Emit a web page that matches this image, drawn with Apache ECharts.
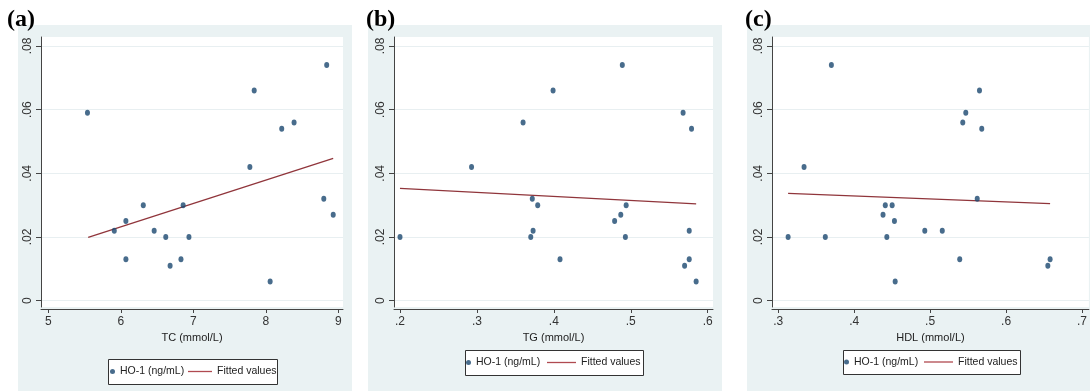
<!DOCTYPE html>
<html><head><meta charset="utf-8">
<script src="https://cdn.jsdelivr.net/npm/echarts@6/dist/echarts.min.js"></script>
<style>html,body{margin:0;padding:0;background:#fff}#c{width:1090px;height:391px}</style>
</head><body><div id="c"></div>
<script>
// ---- data ----
const yTicks = [0, 0.02, 0.04, 0.06, 0.08];
const xTicksA = [5, 6, 7, 8, 9];
const xTicksB = [0.2, 0.3, 0.4, 0.5, 0.6];
const xTicksC = [0.3, 0.4, 0.5, 0.6, 0.7];

const tcA = [5.54, 5.91, 6.07, 6.07, 6.31, 6.46, 6.62, 6.68, 6.83, 6.86, 6.94, 7.78, 7.84, 8.06, 8.22, 8.39, 8.80, 8.84, 8.93];
const hoA = [0.059, 0.022, 0.025, 0.013, 0.030, 0.022, 0.020, 0.011, 0.013, 0.030, 0.020, 0.042, 0.066, 0.006, 0.054, 0.056, 0.032, 0.074, 0.027];
const fitXA = [5.55, 8.93];
const fitYA = [0.0199, 0.0447];

const tgB = [0.200, 0.293, 0.360, 0.372, 0.379, 0.373, 0.370, 0.399, 0.408, 0.479, 0.487, 0.489, 0.494, 0.493, 0.568, 0.579, 0.576, 0.576, 0.570, 0.585];
const hoB = [0.020, 0.042, 0.056, 0.032, 0.030, 0.022, 0.020, 0.066, 0.013, 0.025, 0.027, 0.074, 0.030, 0.020, 0.059, 0.054, 0.022, 0.013, 0.011, 0.006];
const fitXB = [0.200, 0.585];
const fitYB = [0.0353, 0.0304];

const hdlC = [0.313, 0.334, 0.362, 0.370, 0.438, 0.441, 0.450, 0.453, 0.443, 0.454, 0.493, 0.516, 0.539, 0.543, 0.547, 0.565, 0.568, 0.562, 0.655, 0.658];
const hoC = [0.020, 0.042, 0.020, 0.074, 0.027, 0.030, 0.030, 0.025, 0.020, 0.006, 0.022, 0.022, 0.013, 0.056, 0.059, 0.066, 0.054, 0.032, 0.011, 0.013];
const fitXC = [0.313, 0.658];
const fitYC = [0.0337, 0.0305];

const panelLabels = ['(a)', '(b)', '(c)'];
const xTitles = ['TC (mmol/L)', 'TG (mmol/L)', 'HDL (mmol/L)'];
const seriesNames = ['HO-1 (ng/mL)', 'Fitted values'];

// ---- styling / layout ----
const FONT = "'Liberation Sans Narrow','Liberation Sans',Arial,sans-serif";
const NAVY = '#1a476f', MAROON = '#90353b', BG = '#eaf2f3', GRIDC = '#e8eff1', AXC = '#444';

const panels = [
  {x: tcA, y: hoA, fx: fitXA, fy: fitYA, ticks: xTicksA,
   grid: {left: 41, top: 37, width: 302, height: 270}, xmin: 4.899, xmax: 9.065,
   bg: [18, 25, 334, 366], lab: [7, 8],
   box: [108, 359, 169, 25], l1: 110, l2: 188, lw: 24, lc: 371.5},
  {x: tgB, y: hoB, fx: fitXB, fy: fitYB, ticks: xTicksB,
   grid: {left: 394, top: 37, width: 319, height: 270}, xmin: 0.1922, xmax: 0.6069,
   bg: [368, 25, 354, 366], lab: [366, 8],
   box: [465, 350, 178, 25], l1: 466, l2: 547, lw: 29, lc: 362.5},
  {x: hdlC, y: hoC, fx: fitXC, fy: fitYC, ticks: xTicksC,
   grid: {left: 772, top: 37, width: 320, height: 270}, xmin: 0.2918, xmax: 0.7091,
   bg: [747, 25, 360, 366], lab: [745, 8],
   box: [843, 350, 177, 24], l1: 844, l2: 924, lw: 29, lc: 362}
];

const fmtDec = v => {
  const s = String(+v.toFixed(3));
  return s.replace(/^0\./, '.');
};

const option = {
  backgroundColor: '#fff',
  animation: false,
  title: [], grid: [], xAxis: [], yAxis: [], series: [], legend: [], graphic: []
};

panels.forEach((p, i) => {
  option.graphic.push({type: 'rect', z: -10, silent: true,
    shape: {x: p.bg[0], y: p.bg[1], width: p.bg[2], height: p.bg[3]},
    style: {fill: BG}});
  option.graphic.push({type: 'rect', z: 3, silent: true,
    shape: {x: p.box[0] + 0.5, y: p.box[1] + 0.5, width: p.box[2], height: p.box[3]},
    style: {fill: '#fff', stroke: '#333', lineWidth: 1}});
  option.title.push({text: panelLabels[i], left: p.lab[0], top: p.lab[1], padding: 0,
    textStyle: {fontFamily: "'Liberation Serif','Times New Roman',serif", fontWeight: 'bold', fontSize: 24, color: '#000'}});
  option.grid.push(Object.assign({show: true, backgroundColor: '#fff', borderWidth: 0, containLabel: false}, p.grid));
  option.xAxis.push({
    type: 'value', gridIndex: i, min: p.xmin, max: p.xmax, offset: 2,
    name: xTitles[i], nameLocation: 'middle', nameGap: 21,
    nameTextStyle: {fontFamily: FONT, fontSize: 11, color: '#222'},
    axisLine: {show: true, onZero: false, lineStyle: {color: AXC, width: 1}},
    axisTick: {show: true, length: 4, customValues: p.ticks, lineStyle: {color: AXC}},
    axisLabel: {customValues: p.ticks, formatter: fmtDec, margin: 7, fontFamily: FONT, fontSize: 12, color: '#333'},
    splitLine: {show: false}
  });
  option.yAxis.push({
    type: 'value', gridIndex: i, min: -0.00198, max: 0.08283,
    axisLine: {show: true, onZero: false, lineStyle: {color: AXC, width: 1}},
    axisTick: {show: true, length: 5, customValues: yTicks, lineStyle: {color: AXC}},
    axisLabel: {customValues: yTicks, formatter: fmtDec, rotate: 90, margin: 7, fontFamily: FONT, fontSize: 12, color: '#333'},
    splitLine: {show: true, lineStyle: {color: GRIDC, width: 1}}
  });
  option.series.push({
    name: seriesNames[0], type: 'scatter', xAxisIndex: i, yAxisIndex: i,
    symbol: 'circle', symbolSize: [5, 6], itemStyle: {color: NAVY},
    data: p.x.map((v, k) => [v, p.y[k]]), z: 3
  });
  option.series.push({
    name: seriesNames[1], type: 'line', xAxisIndex: i, yAxisIndex: i,
    symbol: 'none', lineStyle: {color: MAROON, width: 1.3}, itemStyle: {color: MAROON},
    data: p.fx.map((v, k) => [v, p.fy[k]]), z: 2
  });
  const lt = p.lc - 7;
  const lts = {fontFamily: FONT, fontSize: 10.5, color: '#222', lineHeight: 14};
  option.legend.push({data: [{name: seriesNames[0], icon: 'circle'}], left: p.l1, top: lt, padding: 0,
    itemWidth: 5, itemHeight: 5, itemGap: 0, z: 5, selectedMode: false, textStyle: lts});
  option.legend.push({data: [{name: seriesNames[1], icon: 'rect', itemStyle: {color: '#b04a50'}}], left: p.l2, top: lt, padding: 0,
    itemWidth: p.lw, itemHeight: 1.3, itemGap: 0, z: 5, selectedMode: false, textStyle: lts});
});

const chart = echarts.init(document.getElementById('c'), null, {renderer: 'canvas'});
chart.setOption(option);
</script>
</body></html>
